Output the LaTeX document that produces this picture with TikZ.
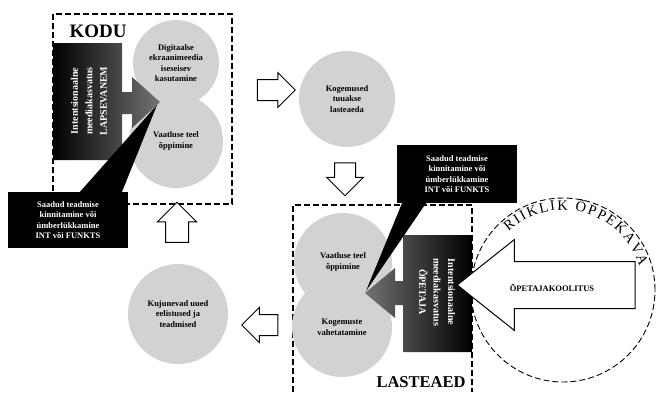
\documentclass[tikz,border=0pt]{standalone}
\usepackage{fontspec}
\setmainfont{Liberation Serif}
\usetikzlibrary{positioning, shapes.arrows, decorations.text, calc}

\begin{document}
\begin{tikzpicture}[
    % Global Styles (1 unit = 1 pixel of the layout, y runs downwards)
    x=1pt, y=-1pt,
    font=\bfseries\fontsize{8.5}{10.5}\selectfont,
    % Style for the grey bubbles
    bubble/.style={circle, fill=gray!35, minimum size=#1, inner sep=0pt, align=center},
    % Style for the white block arrows between the steps (inner sep = half shaft)
    flow_arrow/.style={single arrow, draw=black, line width=1pt, fill=white, inner sep=10pt,
        single arrow head extend=7pt, minimum height=38},
    % Style for the dashed zones
    zone/.style={line width=1.1pt, dash pattern=on 6pt off 3pt},
    % Style for the black callouts
    callout_box/.style={fill=black, text=white, align=center, inner sep=2pt,
        minimum width=120, minimum height=56},
    % Style for headings and arrow texts
    heading/.style={font=\bfseries\fontsize{19}{19}\selectfont},
    arrow_text/.style={text=white, align=center, font=\bfseries\fontsize{10}{14.5}\selectfont}
]
\useasboundingbox (0,0) rectangle (661,392);

%% --- ZONE 1: KODU ---
\draw[zone] (53,14) rectangle (232,204);
\node[heading, anchor=west] (kodu) at (66,31) {KODU};

% Bubbles
\node[bubble=86] (digi) at (176,63) {Digitaalse\\ekraanimeedia\\iseseisev\\kasutamine};
\node[bubble=94] (vaatKodu) at (176,141) {Vaatluse teel\\õppimine};

% Parent arrow
\shade[left color=black, right color=black!55]
    (53,43) -- (122,43) -- (122,92) -- (132,92) -- (132,77) -- (160,102)
    -- (132,128) -- (132,114) -- (122,114) -- (122,160) -- (53,160) -- cycle;
\node[arrow_text, rotate=90] (lapsTxt) at (89,101) {Intentsionaalne\\meediakasvatus\\LAPSEVANEM};
\coordinate (kTip) at (157,105);

% Callout
\node[callout_box] (callKodu) at (68,220) {Saadud teadmise\\kinnitamine või\\ümberlükkamine\\INT või FUNKTS};
\fill[black] (kTip) -- ($(callKodu.north)+(12,0)$) -- ($(callKodu.north)+(54,0)$) -- cycle;

%% --- STEP: TO THE KINDERGARTEN ---
\node[bubble=96] (kogemused) at (347,99) {Kogemused\\tuuakse\\lasteaeda};
\node[flow_arrow] (toKog) at (271,90) {};
\node[flow_arrow, shape border rotate=270, minimum height=33, single arrow head extend=8pt] (toLast) at (345,174) {};

%% --- ZONE 2: LASTEAED ---
\draw[zone] (293,392) -- (293,205) -- (472,205) -- (472,392);
\node[heading, font=\bfseries\fontsize{16.5}{16.5}\selectfont, anchor=east] (lasteaed) at (469,382) {LASTEAED};

% Bubbles
\node[bubble=98] (vaatLast) at (343,262) {Vaatluse teel\\õppimine};
\node[bubble=100] (vahetus) at (342,327) {Kogemuste\\vahetatamine};

% Teacher arrow
\shade[left color=black!55, right color=black]
    (472,235) -- (403,235) -- (403,281) -- (395,281) -- (395,268) -- (365,293)
    -- (395,318) -- (395,305) -- (403,305) -- (403,352) -- (472,352) -- cycle;
\node[arrow_text, rotate=-90] (opetTxt) at (437,292) {Intentsionaalne\\meediakasvatus\\ÕPETAJA};
\coordinate (lTip) at (366,291);

% Callout
\node[callout_box, minimum height=58] (callLast) at (457,174) {Saadud teadmise\\kinnitamine või\\ümberlükkamine\\INT või FUNKTS};
\fill[black] (lTip) -- ($(callLast.south)+(-55,0)$) -- ($(callLast.south)+(-31,0)$) -- cycle;

%% --- STEP: BACK HOME ---
\node[bubble=100] (kujunevad) at (178,314) {Kujunevad uued\\eelistused ja\\teadmised};
\node[flow_arrow, shape border rotate=180, minimum height=36] (toKuj) at (265,325) {};
\node[flow_arrow, shape border rotate=90, minimum height=40, inner sep=11pt, single arrow head extend=8pt] (toKodu) at (177,228) {};

%% --- NATIONAL CURRICULUM ---
\node[draw, circle, zone, line width=0.9pt, minimum size=184, inner sep=0pt] (ring) at (563,290) {};
\path[decorate, decoration={text along path, text align=fit to path,
      text={|\mdseries\fontsize{14.5}{14.5}\selectfont|RIIKLIK ÕPPEKAVA}}]
    (ring.center) ++(133:80pt) arc[start angle=133, end angle=17, radius=80pt];
\node[flow_arrow, shape border rotate=180, minimum height=178, inner sep=23pt,
      single arrow head extend=22pt, single arrow tip angle=77] (koolitus) at (561,285) {};
\node (koolitusTxt) at (552,288) {ÕPETAJAKOOLITUS};

\end{tikzpicture}
\end{document}
